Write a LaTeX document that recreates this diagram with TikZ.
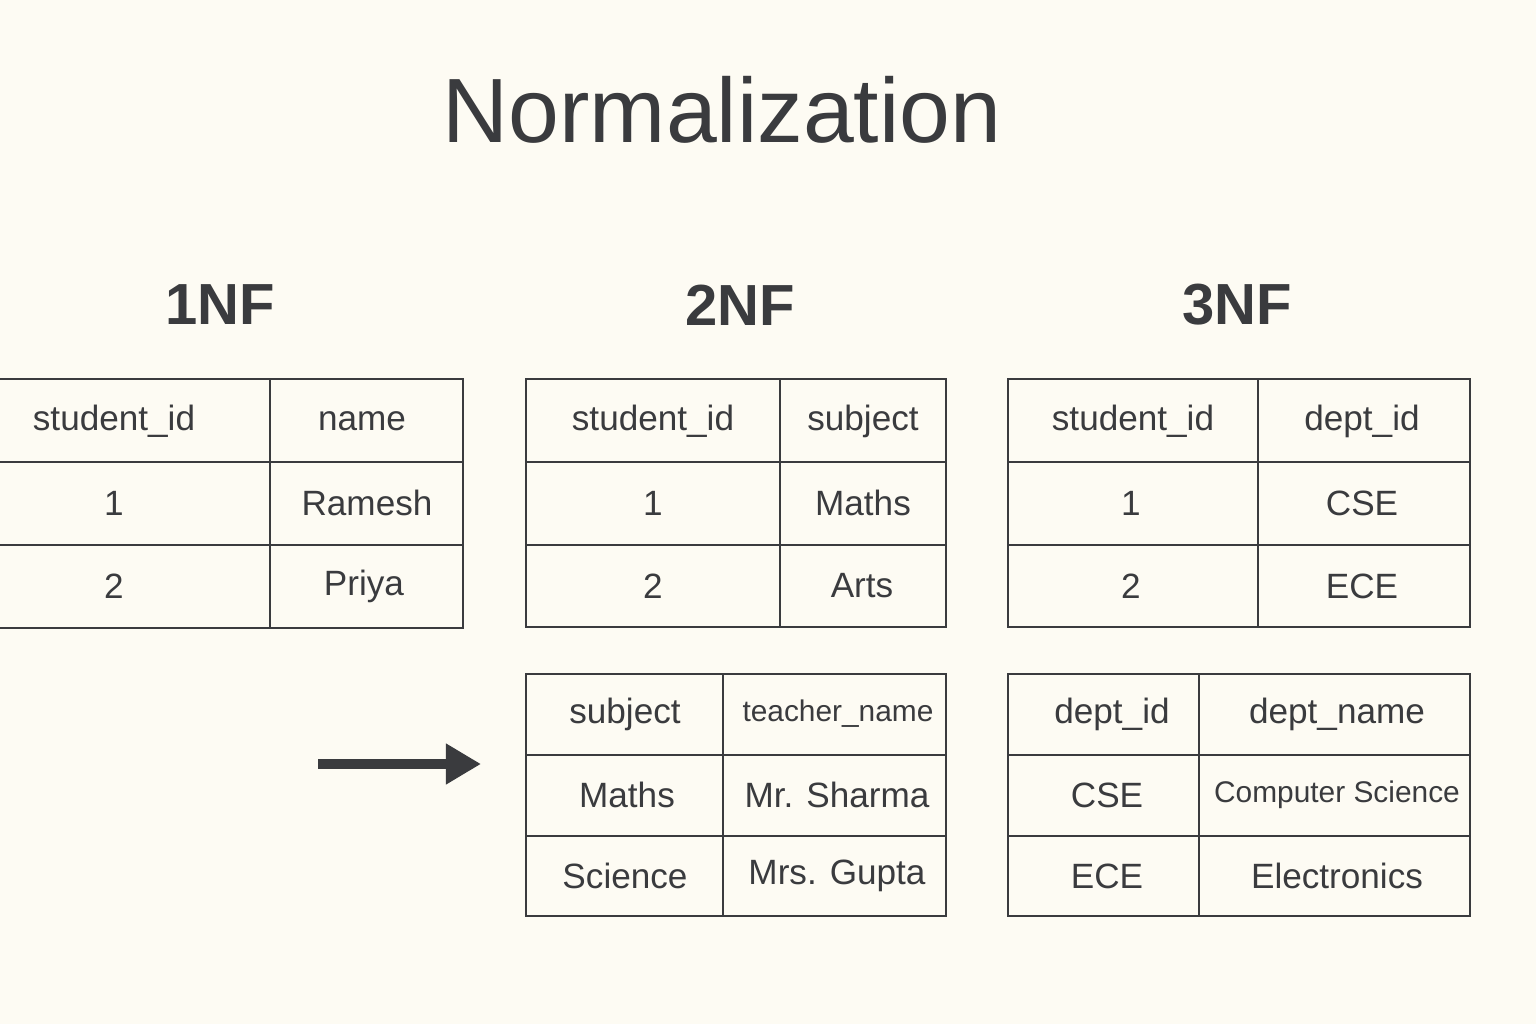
\documentclass[tikz,border=0pt]{standalone}
\usepackage{fontspec}
\setmainfont{Liberation Sans}
\usepackage{tikz}
\usetikzlibrary{arrows.meta, positioning}
\definecolor{paper}{HTML}{FDFBF3}
\definecolor{ink}{HTML}{3A3B3E}

\begin{document}
\begin{tikzpicture}[
    x=0.02cm, y=-0.02cm,
    title/.style={text=ink, font=\fontsize{52}{60}\selectfont},
    level/.style={text=ink, font=\fontsize{33}{40}\selectfont\bfseries},
    grid/.style={draw=ink, line width=1pt},
    cell/.style={text=ink, font=\fontsize{20}{24}\selectfont},
    narrowcell/.style={cell, font=\fontsize{17}{20}\selectfont},
    bigarrow/.style={-{Triangle[length=20pt, width=22pt]}, ink, line width=5.5pt}
]
% background and margins
\fill[paper] (0,0) rectangle (1536,1024);
\useasboundingbox (0,0) rectangle (1536,1024);

% Title and level headings
\node[title] (heading) at (722,110) {Normalization};
\node[level] (first) at (220,305) {1NF};
\node[level] (second) at (740,305) {2NF};
\node[level] (third) at (1237,305) {3NF};

% 1NF table
\draw[grid] (0,379) -- (463,379) -- (463,628) -- (0,628);
\foreach \y in {462,545} \draw[grid] (0,\y) -- (463,\y);
\draw[grid] (270,379) -- (270,628);
\node[cell] (onea) at (114,421) {student\_id};
\node[cell] (oneb) at (362,421) {name};
\node[cell] (onec) at (114,503) {1};
\node[cell] (oned) at (367,503) {Ramesh};
\node[cell] (onee) at (114,586) {2};
\node[cell] (onef) at (364,586) {Priya};

% 2NF tables
\draw[grid] (526,379) rectangle (946,627);
\foreach \y in {462,545} \draw[grid] (526,\y) -- (946,\y);
\draw[grid] (780,379) -- (780,627);
\node[cell] (twoa) at (653,421) {student\_id};
\node[cell] (twob) at (863,421) {subject};
\node[cell] (twoc) at (653,503) {1};
\node[cell] (twod) at (863,503) {Maths};
\node[cell] (twoe) at (653,586) {2};
\node[cell] (twof) at (862,586) {Arts};

\draw[grid] (526,674) rectangle (946,916);
\foreach \y in {755,836} \draw[grid] (526,\y) -- (946,\y);
\draw[grid] (723,674) -- (723,916);
\node[cell] (subja) at (625,714) {subject};
\node[narrowcell] (subjb) at (838,714) {teacher\_name};
\node[cell] (subjc) at (627,795) {Maths};
\node[cell] (subjd) at (837,795) {Mr. Sharma};
\node[cell] (subje) at (625,876) {Science};
\node[cell] (subjf) at (837,876) {Mrs. Gupta};

% 3NF tables
\draw[grid] (1008,379) rectangle (1470,627);
\foreach \y in {462,545} \draw[grid] (1008,\y) -- (1470,\y);
\draw[grid] (1258,379) -- (1258,627);
\node[cell] (threea) at (1133,421) {student\_id};
\node[cell] (threeb) at (1362,421) {dept\_id};
\node[cell] (threec) at (1131,503) {1};
\node[cell] (threed) at (1362,503) {CSE};
\node[cell] (threee) at (1131,586) {2};
\node[cell] (threef) at (1362,586) {ECE};

\draw[grid] (1008,674) rectangle (1470,916);
\foreach \y in {755,836} \draw[grid] (1008,\y) -- (1470,\y);
\draw[grid] (1199,674) -- (1199,916);
\node[cell] (depta) at (1112,714) {dept\_id};
\node[cell] (deptb) at (1337,714) {dept\_name};
\node[cell] (deptc) at (1107,795) {CSE};
\node[narrowcell] (deptd) at (1337,795) {Computer Science};
\node[cell] (depte) at (1107,876) {ECE};
\node[cell] (deptf) at (1337,876) {Electronics};

% Arrow
\coordinate (from) at (318,764);
\coordinate (to) at (481,764);
\draw[bigarrow] (from) -- (to);
\end{tikzpicture}
\end{document}
